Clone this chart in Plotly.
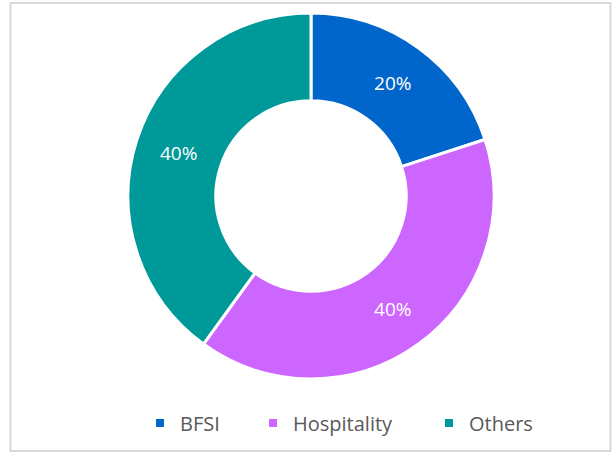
import plotly.graph_objects as go

labels = ["BFSI", "Hospitality", "Others"]
shares = [20, 40, 40]
colors = ["#0066CC", "#CC66FF", "#009999"]

W, H = 616, 453
FONT = "Open Sans"

fig = go.Figure()
fig.add_pie(
    labels=labels,
    values=shares,
    hole=0.52,
    sort=False,
    direction="clockwise",
    rotation=0,
    marker=dict(colors=colors, line=dict(color="white", width=3)),
    texttemplate="%{percent:.0%}",
    textposition="inside",
    insidetextorientation="horizontal",
    textfont=dict(color="white", size=19, family=FONT),
    domain=dict(x=[128 / W, 494 / W], y=[1 - 379 / H, 1 - 13 / H]),
    hoverinfo="label+percent",
    showlegend=False,
)

# legend entries placed like the original (uneven gaps), one legend each
legend_x = [160, 273, 449]  # marker centres, px
legend_names = ["legend", "legend2", "legend3"]
for name, color, lx, lg in zip(labels, colors, legend_x, legend_names):
    fig.add_scatter(
        x=[None], y=[None], mode="markers", name=name,
        marker=dict(symbol="square", size=8, color=color),
        legend=lg, showlegend=True, hoverinfo="skip",
    )
    fig.update_layout({lg: dict(
        orientation="h",
        x=(lx - 20) / W, xanchor="left",
        y=1 - 423 / H, yanchor="middle",
        font=dict(size=20, color="#595959", family=FONT),
        itemwidth=30,
        bgcolor="rgba(0,0,0,0)",
    )})

# chart border
fig.add_shape(
    type="rect", xref="paper", yref="paper",
    x0=10.5 / W, x1=610.5 / W, y0=1 - 451 / H, y1=1 - 3 / H,
    line=dict(color="#D9D9D9", width=2), fillcolor="rgba(0,0,0,0)",
)

fig.update_layout(
    width=W,
    height=H,
    margin=dict(l=0, r=0, t=0, b=0),
    paper_bgcolor="white",
    plot_bgcolor="white",
    xaxis=dict(visible=False),
    yaxis=dict(visible=False),
)

fig.write_html(
    "out.html",
    config={"displayModeBar": False},
    post_script="document.body.style.margin='0';",
)
